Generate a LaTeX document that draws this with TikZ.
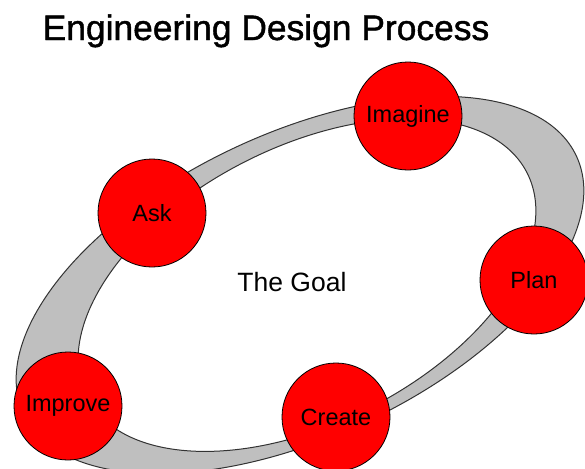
\documentclass[tikz,border=0pt]{standalone}
\usepackage{fontspec}
\setmainfont{Liberation Sans}

\begin{document}
\begin{tikzpicture}[x=0.5pt, y=0.5pt]
	\tikzstyle{stage} = [
		circle, draw=black, thin, fill=red, minimum size=54pt, inner sep=0pt,
		font=\fontsize{11.75}{13}\selectfont
	]
	\tikzstyle{ring} = [
		fill=black!25, draw=black!80, line width=0.5pt, even odd rule
	]
	\tikzstyle{title} = [
		font=\fontsize{17.7}{20}\selectfont\addfontfeature{FakeBold=1.2}, anchor=base
	]

	% Frame
	\useasboundingbox (0,0) rectangle (585,468);

	% Title
	\node (Title) [title] at (266,428) {Engineering Design Process};

	% Ring
	\coordinate (RingCenter) at (300,183);
	\coordinate (RingInner) at (307,183);
	\draw[ring] (RingCenter) ellipse [x radius=305, y radius=152, rotate=25]
		(RingInner) ellipse [x radius=247, y radius=138, rotate=27];

	% Goal
	\node (Goal) [font=\fontsize{13.25}{15}\selectfont] at (292,186) {The Goal};

	% Stages
	\node (Imagine) [stage] at (408,352) {Imagine};
	\node (Ask)     [stage] at (152,255) {Ask};
	\node (Plan)    [stage] at (534,188) {Plan};
	\node (Create)  [stage] at (336,51)  {Create};
	\node (Improve) [stage] at (68,62)   {Improve};
\end{tikzpicture}
\end{document}
